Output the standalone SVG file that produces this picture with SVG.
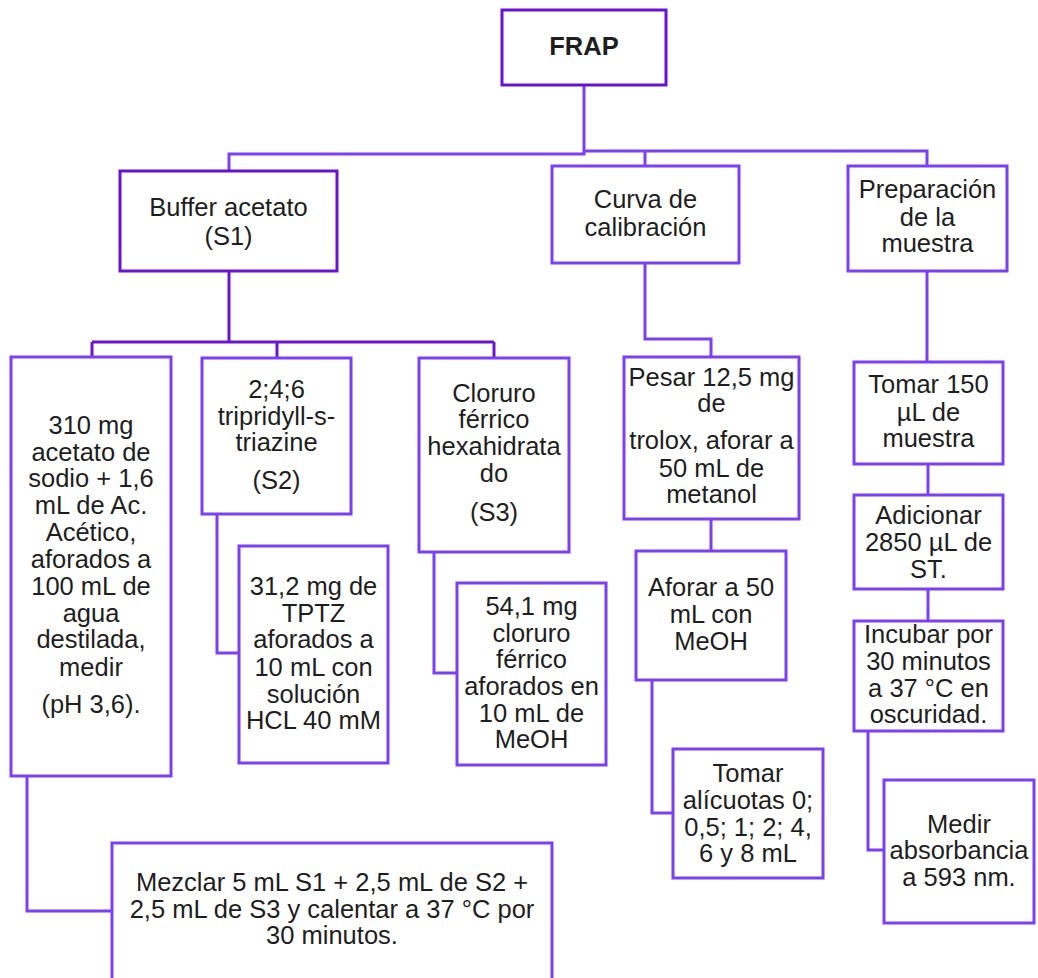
<svg xmlns="http://www.w3.org/2000/svg" width="1038" height="978" viewBox="0 0 1038 978">
<style>
.box{fill:#fff;stroke:#7b3ff4;stroke-width:3}
.dark{stroke:#6a12d2}
.ln{fill:none;stroke:#7b3ff4;stroke-width:3}
.lnd{fill:none;stroke:#6a14cc;stroke-width:3}
text{font-family:"Liberation Sans",Arial,sans-serif;font-size:25.5px;fill:#1e1e1e;text-anchor:middle}
.b{font-weight:bold}
</style>
<rect width="1038" height="978" fill="#fff"/>
<g id="connectors">
<path class="ln" d="M584,85 V154 H229 V171"/>
<path class="ln" d="M584,151 H927 V166 M645,151 V166"/>
<path class="lnd" d="M229,271 V342 M92,342 H494 M92,342 V357 M277,342 V358 M494,342 V358"/>
<path class="ln" d="M217,514 V653 H239"/>
<path class="ln" d="M434,552 V673 H457"/>
<path class="ln" d="M27,776 V911 H112"/>
<path class="ln" d="M645,263 V339 H711 V357"/>
<path class="ln" d="M711,519 V551"/>
<path class="ln" d="M652,680 V813 H673"/>
<path class="ln" d="M927,271 V362"/>
<path class="ln" d="M928,464 V495"/>
<path class="ln" d="M928,589 V621"/>
<path class="ln" d="M868,731 V850 H884"/>
</g>
<g id="frap"><rect class="box dark" x="502" y="10" width="164" height="75"/><text class="b" x="584" y="55">FRAP</text></g>
<g id="buffer"><rect class="box dark" x="120" y="171" width="217" height="100"/><text x="228.5" y="216">Buffer acetato</text><text x="228.5" y="245">(S1)</text></g>
<g id="curva"><rect class="box" x="552" y="166" width="187" height="97"/><text x="645.5" y="208">Curva de</text><text x="645.5" y="236">calibración</text></g>
<g id="preparacion"><rect class="box" x="848" y="166" width="159" height="105"/><text x="927.5" y="198">Preparación</text><text x="927.5" y="226">de la</text><text x="927.5" y="252">muestra</text></g>
<g id="s1detalle"><rect class="box" x="11" y="357" width="160" height="419"/>
<text x="91" y="434">310 mg</text><text x="91" y="461">acetato de</text><text x="91" y="487">sodio + 1,6</text><text x="91" y="514">mL de Ac.</text><text x="91" y="541">Acético,</text><text x="91" y="568">aforados a</text><text x="91" y="595">100 mL de</text><text x="91" y="622">agua</text><text x="91" y="648">destilada,</text><text x="91" y="676">medir</text><text x="91" y="713">(pH 3,6).</text></g>
<g id="s2"><rect class="box" x="202" y="358" width="149" height="156"/><text x="276.5" y="398">2;4;6</text><text x="276.5" y="425">tripridyll-s-</text><text x="276.5" y="451">triazine</text><text x="276.5" y="489">(S2)</text></g>
<g id="s2detalle"><rect class="box" x="239" y="546" width="149" height="217"/><text x="313.5" y="595">31,2 mg de</text><text x="313.5" y="622">TPTZ</text><text x="313.5" y="648">aforados a</text><text x="313.5" y="676">10 mL con</text><text x="313.5" y="703">solución</text><text x="313.5" y="729">HCL 40 mM</text></g>
<g id="s3"><rect class="box" x="419" y="358" width="150" height="194"/><text x="494" y="402">Cloruro</text><text x="494" y="428">férrico</text><text x="494" y="455">hexahidrata</text><text x="494" y="482">do</text><text x="494" y="521">(S3)</text></g>
<g id="s3detalle"><rect class="box" x="457" y="583" width="149" height="182"/><text x="531.5" y="615">54,1 mg</text><text x="531.5" y="642">cloruro</text><text x="531.5" y="668">férrico</text><text x="531.5" y="695">aforados en</text><text x="531.5" y="722">10 mL de</text><text x="531.5" y="748">MeOH</text></g>
<g id="pesar"><rect class="box" x="624" y="357" width="175" height="162"/><text x="711.5" y="386">Pesar 12,5 mg</text><text x="711.5" y="412">de</text><text x="711.5" y="449">trolox, aforar a</text><text x="711.5" y="477">50 mL de</text><text x="711.5" y="503">metanol</text></g>
<g id="aforar"><rect class="box" x="636" y="551" width="150" height="129"/><text x="711" y="596">Aforar a 50</text><text x="711" y="623">mL con</text><text x="711" y="650">MeOH</text></g>
<g id="alicuotas"><rect class="box" x="673" y="749" width="150" height="129"/><text x="748" y="782">Tomar</text><text x="748" y="809">alícuotas 0;</text><text x="748" y="836">0,5; 1; 2; 4,</text><text x="748" y="862">6 y 8 mL</text></g>
<g id="tomar150"><rect class="box" x="854" y="362" width="149" height="102"/><text x="928.5" y="393">Tomar 150</text><text x="928.5" y="421">µL de</text><text x="928.5" y="447">muestra</text></g>
<g id="adicionar"><rect class="box" x="854" y="495" width="149" height="94"/><text x="928.5" y="524">Adicionar</text><text x="928.5" y="551">2850 µL de</text><text x="928.5" y="578">ST.</text></g>
<g id="incubar"><rect class="box" x="854" y="621" width="149" height="110"/><text x="928.5" y="643">Incubar por</text><text x="928.5" y="670">30 minutos</text><text x="928.5" y="697">a 37 °C en</text><text x="928.5" y="723">oscuridad.</text></g>
<g id="medir"><rect class="box" x="884" y="780" width="150" height="143"/><text x="959" y="833">Medir</text><text x="959" y="859">absorbancia</text><text x="959" y="886">a 593 nm.</text></g>
<g id="mezclar"><rect class="box" x="112" y="843" width="440" height="150"/><text x="332" y="891">Mezclar 5 mL S1 + 2,5 mL de S2 +</text><text x="332" y="918">2,5 mL de S3 y calentar a 37 °C por</text><text x="332" y="944">30 minutos.</text></g>
</svg>
